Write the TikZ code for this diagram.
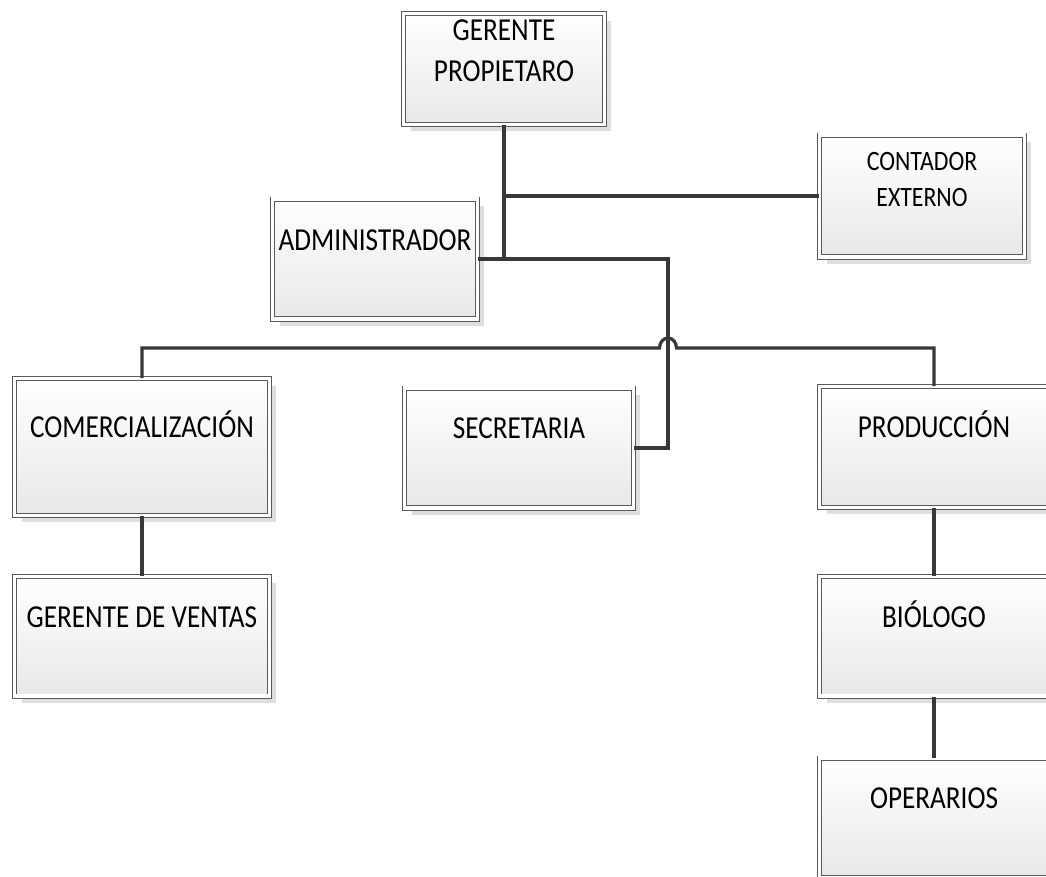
\documentclass[tikz,border=0pt]{standalone}
\usepackage{fontspec}
\setmainfont[FakeStretch=0.85]{Carlito}
\usetikzlibrary{positioning,shadows}

\newcommand{\grande}{\fontsize{32}{41}\selectfont}
\newcommand{\mediano}{\fontsize{28}{36}\selectfont}

\begin{document}
\begin{tikzpicture}[x=1pt, y=-1pt,
    cargo/.style={rectangle, draw=black!65, line width=0.8pt, double=white, double distance=3.6pt,
        top color=white, bottom color=black!9, minimum width=228.8pt, minimum height=119.8pt,
        drop shadow={shadow xshift=7pt, shadow yshift=-7pt, fill=black!13, opacity=1}},
    rotulo/.style={inner sep=0pt, align=center, font=\grande},
    linea/.style={draw=black!78, line width=3.2pt}]
    \useasboundingbox (0,0) rectangle (1046,876);

    % cajas
    \node[cargo, minimum width=200.8pt, minimum height=110.8pt] (gerente) at (504,69) {};
    \node[cargo, minimum width=204.8pt] (admin) at (375,259) {};
    \node[cargo, minimum width=204.8pt, minimum height=121.8pt] (contador) at (922,196) {};
    \node[cargo, minimum width=254.8pt, minimum height=136.8pt] (comerc) at (142,447) {};
    \node[cargo] (secretaria) at (519,448) {};
    \node[cargo, minimum height=120.8pt] (produccion) at (934,447) {};
    \node[cargo, minimum width=254.8pt, below=60.2pt of comerc] (ventas) {};
    \node[cargo, below=68.2pt of produccion] (biologo) {};
    \node[cargo, below=61.2pt of biologo] (operarios) {};

    % textos
    \node[rotulo, below=6.4pt of gerente.north] (t-gerente) {GERENTE\\PROPIETARO};
    \node[rotulo, text height=20.6pt, below=31.4pt of admin.north] (t-admin) {ADMINISTRADOR};
    \node[rotulo, font=\mediano, below=17.4pt of contador.north] (t-contador) {CONTADOR\\EXTERNO};
    \node[rotulo, text height=20.6pt, below=38.1pt of comerc.north] (t-comerc) {COMERCIALIZACIÓN};
    \node[rotulo, text height=20.6pt, below=30.1pt of secretaria.north] (t-secretaria) {SECRETARIA};
    \node[rotulo, text height=20.6pt, below=30.1pt of produccion.north] (t-produccion) {PRODUCCIÓN};
    \node[rotulo, text height=20.6pt, below=31.1pt of ventas.north] (t-ventas) {GERENTE DE VENTAS};
    \node[rotulo, text height=20.6pt, below=31.1pt of biologo.north] (t-biologo) {BIÓLOGO};
    \node[rotulo, text height=20.6pt, below=30.1pt of operarios.north] (t-operarios) {OPERARIOS};

    % conectores
    \coordinate (salto) at (668,348);
    \draw[linea] (gerente.south) -- (gerente.south |- admin.east);
    \draw[linea] (contador.west) -- (contador.west -| gerente.south);
    \draw[linea] (admin.east) -| (salto |- secretaria.east) -- (secretaria.east);
    \draw[linea] (comerc.north) |- ([xshift=-8.5pt]salto)
        arc[start angle=180, end angle=0, x radius=8.5pt, y radius=10pt] -| (produccion.north);
    \draw[linea] (comerc.south) -- (ventas.north);
    \draw[linea] (produccion.south) -- (biologo.north);
    \draw[linea] (biologo.south) -- (operarios.north);
\end{tikzpicture}
\end{document}
